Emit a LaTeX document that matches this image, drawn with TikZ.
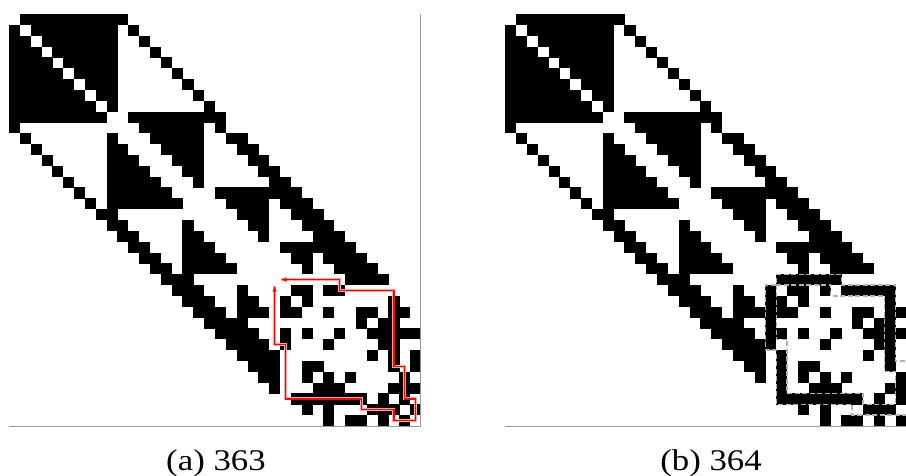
\documentclass[tikz,border=0pt]{standalone}
\usepackage{fontspec}
\setmainfont{Liberation Serif}
\usetikzlibrary{arrows.meta}
\def\Alist{0/1/10,
1/0/0, 1/2/9, 1/11/11,
2/0/1, 2/3/9, 2/12/12,
3/0/2, 3/4/9, 3/13/13,
4/0/3, 4/5/9, 4/14/14,
5/0/4, 5/6/9, 5/15/15,
6/0/5, 6/7/9, 6/16/16,
7/0/6, 7/8/9, 7/17/17,
8/0/7, 8/9/9, 8/18/18,
9/0/8, 9/11/19,
10/0/0, 10/12/17, 10/19/19,
11/1/1, 11/9/9, 11/13/17, 11/20/21,
12/2/2, 12/9/10, 12/14/17, 12/21/22,
13/3/3, 13/9/11, 13/15/17, 13/22/23,
14/4/4, 14/9/12, 14/16/17, 14/23/24,
15/5/5, 15/9/13, 15/17/17, 15/24/25,
16/6/6, 16/9/14, 16/19/26,
17/7/7, 17/9/15, 17/20/23, 17/25/27,
18/8/9, 18/21/23, 18/26/28,
19/9/10, 19/16/16, 19/22/23, 19/27/29,
20/10/11, 20/16/17, 20/23/23, 20/28/30,
21/11/12, 21/16/18, 21/25/31,
22/12/13, 22/16/19, 22/26/27, 22/29/32,
23/13/14, 23/16/20, 23/27/27, 23/30/33}
\def\Arest{24/14/16, 24/31/34,
25/15/17, 25/21/21, 25/26/27, 25/29/30,
26/16/18, 26/21/22, 26/25/25, 26/27/27, 26/35/35,
27/17/19, 27/21/23, 27/25/26, 27/29/29, 27/32/33, 27/35/36,
28/18/21, 28/32/32, 28/34/35,
29/19/22, 29/25/25, 29/27/27, 29/30/30, 29/33/37,
30/20/23, 30/25/25, 30/29/29, 30/34/35,
31/21/24, 31/33/33, 31/35/35, 31/37/37,
32/22/24, 32/27/28, 32/35/35, 32/37/37,
33/23/24, 33/27/27, 33/29/29, 33/31/31, 33/36/36,
34/24/24, 34/28/30, 34/35/37,
35/26/32, 35/34/34, 35/36/36,
36/27/27, 36/29/29, 36/33/35, 36/37/37,
37/29/29, 37/31/32, 37/34/34, 37/36/36}
\def\Brest{24/14/16, 24/25/30,
25/15/17, 25/21/21, 25/24/24, 25/26/27, 25/29/29, 25/31/35,
26/16/18, 26/21/22, 26/24/25, 26/27/27, 26/35/35,
27/17/19, 27/21/26, 27/29/29, 27/32/33, 27/35/36,
28/18/21, 28/24/24, 28/32/32, 28/34/35,
29/19/22, 29/24/25, 29/27/27, 29/30/30, 29/33/37,
30/20/24, 30/29/29, 30/34/35,
31/21/23, 31/25/25, 31/33/33, 31/35/35, 31/37/37,
32/22/23, 32/25/25, 32/27/28, 32/35/35, 32/37/37,
33/23/23, 33/25/25, 33/27/27, 33/29/29, 33/31/31, 33/36/36,
34/25/25, 34/28/30, 34/35/37,
35/25/32, 35/34/34, 35/36/36,
36/27/27, 36/29/29, 36/33/35, 36/37/37,
37/29/29, 37/31/32, 37/34/34, 37/36/36}
\tikzset{
  cellfill/.style={fill=black},
  axisline/.style={draw=black!40, line width=1pt},
  redhalo/.style={draw=red!35, line width=3.2pt, line join=miter},
  redline/.style={draw=red, line width=1.4pt, line join=miter},
  envdash/.style={draw=black!30, line width=1.4pt, dash pattern=on 5pt off 2.5pt},
  caption/.style={inner sep=0pt, anchor=base, font=\fontsize{30}{36}\selectfont}
}
\begin{document}
\begin{tikzpicture}[x=1pt,y=-1pt]
\useasboundingbox (0,0) rectangle (906,475);
\clip (0,0) rectangle (906,475);
% panel (a)
\begin{scope}[shift={(9,14)}, x=10.842pt, y=-10.842pt]
  \foreach \r/\a/\b in \Alist {\fill[cellfill] (\a,\r) rectangle (\b+1.02,\r+1.02);}
  \foreach \r/\a/\b in \Arest {\fill[cellfill] (\a,\r) rectangle (\b+1.02,\r+1.02);}
  \draw[axisline] (0,38) -- (38,38) -- (38,0);
  \coordinate (ta) at (25.05,24.5);
  \coordinate (tb) at (24.5,25.05);
  \path[redhalo] (ta) -- (30.5,24.5) -- (30.5,25.5) -- (35.5,25.5) -- (35.5,32.5) -- (36.5,32.5) -- (36.5,35.5) -- (37.5,35.5) -- (37.5,37.5) -- (35.5,37.5) -- (35.5,36.5) -- (32.5,36.5) -- (32.5,35.5) -- (25.5,35.5) -- (25.5,30.5) -- (24.5,30.5) -- (tb);
  \draw[redline, {Latex[length=6pt,width=4.5pt]}-{Latex[length=6pt,width=4.5pt]}] (ta) -- (30.5,24.5) -- (30.5,25.5) -- (35.5,25.5) -- (35.5,32.5) -- (36.5,32.5) -- (36.5,35.5) -- (37.5,35.5) -- (37.5,37.5) -- (35.5,37.5) -- (35.5,36.5) -- (32.5,36.5) -- (32.5,35.5) -- (25.5,35.5) -- (25.5,30.5) -- (24.5,30.5) -- (tb);
\end{scope}
% panel (b)
\begin{scope}[shift={(505.2,14)}, x=10.842pt, y=-10.842pt]
  \foreach \r/\a/\b in \Alist {\fill[cellfill] (\a,\r) rectangle (\b+1.02,\r+1.02);}
  \foreach \r/\a/\b in \Brest {\fill[cellfill] (\a,\r) rectangle (\b+1.02,\r+1.02);}
  \draw[axisline] (0,38) -- (38,38) -- (38,0);
  \draw[envdash] (25,24) -- (31,24) -- (31,25) -- (36,25) -- (36,32) -- (37,32) -- (37,37) -- (32,37) -- (32,36) -- (25,36) -- (25,31) -- (24,31) -- (24,25) -- (25,25) -- cycle;
  \draw[envdash] (25,25) -- (30,25) -- (30,26) -- (35,26) -- (35,33) -- (36,33) -- (36,36) -- (33,36) -- (33,35) -- (26,35) -- (26,30) -- (25,30) -- cycle;
\end{scope}
\node[caption] (capa) at (216,470) {\scalebox{1.16}[1]{(a) 363}};
\node[caption] (capb) at (711,470) {\scalebox{1.16}[1]{(b) 364}};
\end{tikzpicture}
\end{document}
